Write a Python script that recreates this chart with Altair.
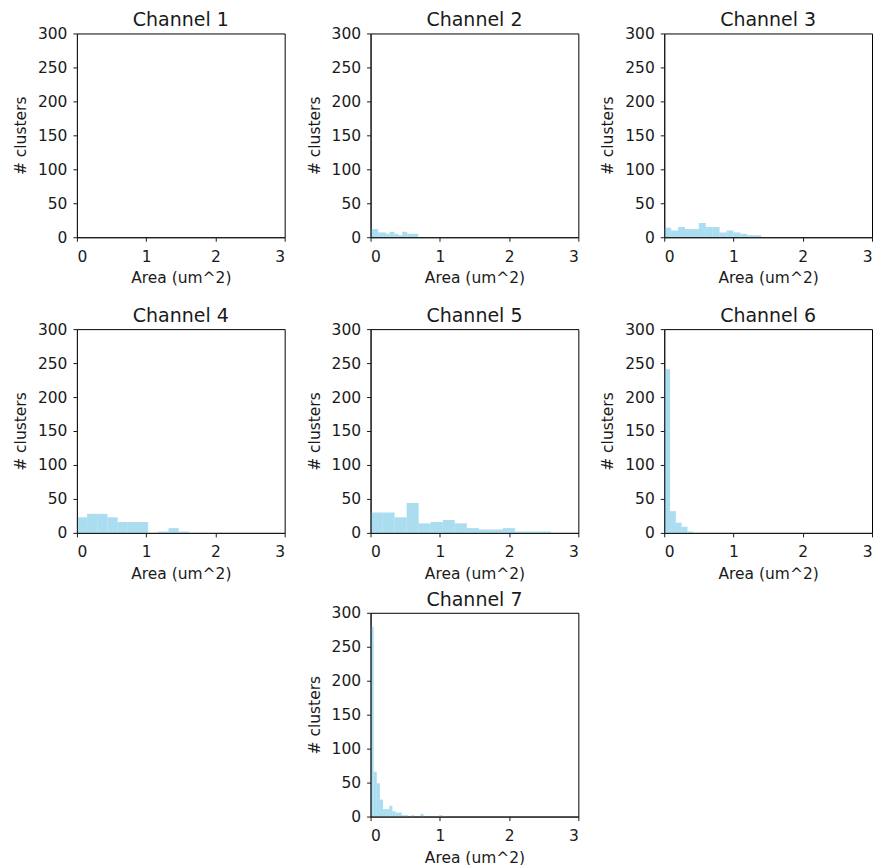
import altair as alt
import pandas as pd

# ---- data (bin edges in um^2, counts per bin) ----
ch1_edges = []
ch1_counts = []

ch2_edges = [0, 0.11, 0.226, 0.274, 0.346, 0.40, 0.457, 0.529, 0.688]
ch2_counts = [12, 7, 5, 8, 5, 3, 8, 5]

ch3_edges = [0, 0.1, 0.2, 0.3, 0.4, 0.5, 0.6, 0.7, 0.8, 0.9, 1.0, 1.1, 1.2, 1.3, 1.4]
ch3_counts = [14, 10, 15, 12, 12, 21, 15, 15, 7, 10, 7, 5, 3, 3]

ch4_edges = [0, 0.147, 0.294, 0.441, 0.588, 0.735, 0.882, 1.029, 1.176, 1.323, 1.47, 1.617]
ch4_counts = [23, 28, 28, 23, 16, 16, 16, 0, 2, 7, 2]

ch5_edges = [0, 0.174, 0.347, 0.521, 0.695, 0.869, 1.042, 1.216, 1.39, 1.564,
             1.737, 1.911, 2.085, 2.259, 2.432, 2.606]
ch5_counts = [30, 30, 23, 44, 14, 16, 19, 14, 7, 5, 5, 7, 2, 2, 2]

ch6_edges = [0, 0.084, 0.168, 0.252, 0.336, 0.42]
ch6_counts = [241, 32, 15, 9, 2]

ch7_edges = [0, 0.045, 0.09, 0.135, 0.18, 0.225, 0.27, 0.315, 0.36, 0.405, 0.45,
             0.495, 0.54, 0.585, 0.63, 0.675, 0.72, 0.765, 0.81, 0.855, 0.9,
             0.945, 0.99, 1.035, 1.08]
ch7_counts = [279, 66, 49, 25, 11, 11, 16, 8, 6, 6, 2, 2, 0, 2, 0, 0, 4, 0, 0, 0,
              0, 0, 2, 1]

x_ticks = [0, 1, 2, 3]
y_ticks = [0, 50, 100, 150, 200, 250, 300]

FONT = "DejaVu Sans"
TXT = "#1a1a1a"
BAR = "#87CEEB"
W, H = 208, 204
LFS = 15.5
TFS = 19


def panel(title, edges, counts, hidden=False):
    df = pd.DataFrame({
        "x0": list(edges[:-1]) if edges else [],
        "x1": list(edges[1:]) if edges else [],
        "count": list(counts),
    })
    c = TXT if not hidden else "transparent"
    common = dict(labelColor=c, titleColor=c, tickColor=c, domainColor=c,
                  labelFont=FONT, titleFont=FONT, labelFontSize=LFS,
                  titleFontSize=LFS, tickSize=4, grid=False, zindex=1,
                  titleFontWeight="normal")
    ch = alt.Chart(df).mark_rect(color=BAR, opacity=0.7).encode(
        x=alt.X("x0:Q", scale=alt.Scale(domain=[0, 3], nice=False, zero=False),
                axis=alt.Axis(values=x_ticks, format="d", title="Area (um^2)",
                              labelPadding=8, titlePadding=6, **common)),
        x2="x1:Q",
        y=alt.Y("count:Q", scale=alt.Scale(domain=[0, 300], nice=False),
                axis=alt.Axis(values=y_ticks, format="d", title="# clusters",
                              labelPadding=6, titlePadding=9, **common)),
        y2=alt.datum(0),
    ).properties(
        width=W, height=H,
        title=alt.TitleParams(title, font=FONT, fontSize=TFS, fontWeight="normal",
                              color=c, offset=-4, anchor="middle"),
        view=alt.ViewBackground(stroke="transparent" if hidden else "#000",
                                strokeWidth=1),
    )
    return ch


p1 = panel("Channel 1", ch1_edges, ch1_counts)
p2 = panel("Channel 2", ch2_edges, ch2_counts)
p3 = panel("Channel 3", ch3_edges, ch3_counts)
p4 = panel("Channel 4", ch4_edges, ch4_counts)
p5 = panel("Channel 5", ch5_edges, ch5_counts)
p6 = panel("Channel 6", ch6_edges, ch6_counts)
p7 = panel("Channel 7", ch7_edges, ch7_counts)
blank = panel("Channel 0", [], [], hidden=True)

HS = 20
row1 = alt.hconcat(p1, p2, p3, spacing=HS)
row2 = alt.hconcat(p4, p5, p6, spacing=HS)
row3 = alt.hconcat(blank, p7, spacing=HS)

chart = alt.vconcat(
    alt.vconcat(row1, row2, spacing=19),
    row3,
    spacing=7,
).properties(
    padding={"left": 12, "top": 10, "right": 1, "bottom": 0},
    background="white",
).configure_view(stroke="#000")

chart.save("out.html", embed_options={"renderer": "svg", "actions": False})
